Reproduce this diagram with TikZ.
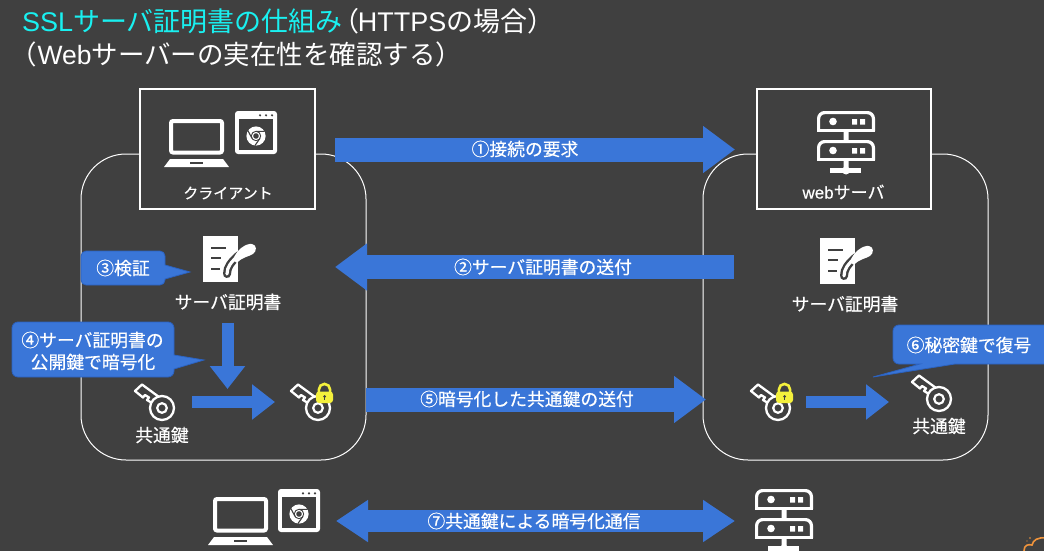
\documentclass[tikz,border=0pt]{standalone}
\usepackage{fontspec}
\setmainfont{Noto Sans CJK JP}
\newfontfamily\latf{Liberation Sans}
\newfontfamily\lblf[FakeBold=0.5]{Noto Sans CJK JP}
\newfontfamily\latlblf[FakeBold=0.5]{Liberation Sans}
\usetikzlibrary{arrows.meta}
\definecolor{bgc}{HTML}{404040}
\definecolor{blu}{HTML}{3A76D8}
\definecolor{blud}{HTML}{2B62C0}
\definecolor{cyn}{HTML}{19F0F0}
\definecolor{ylw}{HTML}{F4F03C}
\definecolor{org}{HTML}{F0943C}
\tikzset{
  lbl/.style={text=white,font=\lblf\fontsize{17.8pt}{20pt}\selectfont,inner sep=0pt},
  smalllbl/.style={text=white,font=\lblf\fontsize{15pt}{18pt}\selectfont,inner sep=0pt},
  ttl/.style={text=white,font=\fontsize{27pt}{30pt}\selectfont,inner sep=0pt,anchor=base west},
  frame/.style={draw=white,line width=1pt,rounded corners=45pt},
  hostbox/.style={draw=white,fill=bgc,line width=2pt},
  callout/.style={fill=blu,draw=blud,line width=.8pt},
  bigarrow/.style={draw=blu,line width=24pt,-{Triangle[length=32pt,width=45pt]}},
  dblarrow/.style={draw=blu,line width=22pt,{Triangle[length=32pt,width=40pt]}-{Triangle[length=32pt,width=40pt]}},
  smallarrow/.style={draw=blu,line width=12pt,-{Triangle[length=23pt,width=34pt]}},
  pics/laptopicon/.style={code={
    \draw[white,line width=4pt,rounded corners=2pt] (2,2) rectangle (53,33.5);
    \fill[white] (-5,48) -- (1,40) -- (54,40) -- (60,48) -- cycle;
    \fill[bgc] (21,43) rectangle (34,45);
  }},
  pics/browsericon/.style={code={
    \fill[white,rounded corners=3pt] (0,0) rectangle (42,43);
    \fill[bgc] (4,8) rectangle (38,39);
    \foreach \dx in {25,31,37}{\fill[bgc] (\dx,4.3) circle (1.2);}
    \fill[white] (21,25) circle (9.6);
    \draw[bgc,line width=1.1pt] (21,25) circle (4.6);
    \draw[bgc,line width=1.1pt] (21,20.4) -- (29.6,20.4) (17,27.3) -- (12.8,19.5) (25,27.3) -- (20,34.5);
    \fill[white] (21,25) circle (4);
    \fill[bgc] (21,25) circle (2.8);
  }},
  pics/servericon/.style={code={
    \foreach \dy in {0,29}{
      \begin{scope}[yshift=-\dy pt]
      \draw[white,line width=3.2pt,rounded corners=6pt] (1.6,20) -- (1.6,1.6) -- (56.4,1.6) -- (56.4,20);
      \draw[white,line width=3.2pt] (0,19.4) -- (58,19.4);
      \fill[white] (16,10.5) circle (3.8);
      \fill[white] (35,8) rectangle (40,13.5) (43,8) rectangle (48,13.5);
      \end{scope}
    }
    \fill[white] (26.5,21) rectangle (31.5,29) (26.5,48) rectangle (31.5,58);
    \fill[white] (13,57) rectangle (44,62);
    \fill[white] (29,59.5) circle (4);
  }},
  pics/certicon/.style={code={
    \fill[white] (0,0) rectangle (35,46);
    \draw[bgc,line width=2.4pt] (8,12) -- (23,12) (8,22) -- (18,22) (8,33) -- (17,33);
    \draw[bgc,line width=8pt,line cap=round] (24,38) .. controls (24,31) and (28,26) .. (36,19);
    \draw[white,line width=3.2pt,line cap=round] (24,38) .. controls (24,31) and (28,26) .. (36,19);
    \fill[white] (30,24) .. controls (33,14) and (43,7) .. (49,8) .. controls (54,9) and (54,15) .. (50,18) .. controls (45,21) and (39,21) .. (34,27) -- cycle;
  }},
  pics/keyicon/.style={code={
    \draw[white,line width=2.3pt,line join=round] (-10,-5) -- (-15,-8) -- (-13,-10.5) -- (-17,-13) -- (-19,-10.5) -- (-27,-17) -- (-20,-23.5) -- (-3,-11);
    \draw[white,fill=bgc,line width=2.3pt] (0,0) circle (12);
    \draw[white,line width=2.2pt] (0,0) circle (4.8);
  }},
  pics/lockicon/.style={code={
    \draw[ylw,line width=2.6pt] (-5.6,-8) -- (-5.6,-11) arc[start angle=180,end angle=360,radius=5.6] -- (5.6,-8);
    \fill[ylw,rounded corners=3pt] (-8.5,-9) rectangle (8.5,2.5);
    \fill[bgc] (0,-4) circle (1.5);
    \fill[bgc] (-.6,-4) rectangle (.6,-.5);
  }},
}
\begin{document}
\begin{tikzpicture}[x=1pt,y=-1pt]
\useasboundingbox (0,0) rectangle (1044,551);
\clip (0,0) rectangle (1044,551);
\fill[bgc] (0,0) rectangle (1044,551);

% title
\node[ttl] (title1) at (22,32) {\textcolor{cyn}{{\latf SSL}サーバ証明書の仕組み}\hspace{-10pt}（\hspace{-2pt}{\latf HTTPS}の場合）};
\node[ttl,font=\fontsize{26.5pt}{30pt}\selectfont] (title2) at (10,64) {（\hspace{1pt}{\latf Web}サーバーの実在性を確認する）};

% frames
\draw[frame] (81,154) rectangle (366,460);
\draw[frame] (703,154) rectangle (988,460);

% hosts
\node[hostbox,minimum width=175pt,minimum height=120pt,inner sep=0pt] (client) at (227.5,149) {};
\node[hostbox,minimum width=174pt,minimum height=120pt,inner sep=0pt] (server) at (844,149) {};
\pic at (169,119) {laptopicon};
\pic at (235,111) {browsericon};
\pic at (817,111) {servericon};
\node[smalllbl] (clientlbl) at (228,193) {クライアント};
\node[smalllbl] (serverlbl) at (843.5,192) {{\latlblf\fontsize{17pt}{18pt}\selectfont web}\fontsize{17pt}{18pt}\selectfont サーバ};

% certificates
\node[inner sep=0pt,minimum size=1pt] (certL) at (221,259) {};
\node[inner sep=0pt,minimum size=1pt] (certR) at (838,261) {};
\pic at (203,236) {certicon};
\pic at (820,238) {certicon};
\node[lbl] (certLlbl) at (228,302) {サーバ証明書};
\node[lbl] (certRlbl) at (845,304) {サーバ証明書};

% keys
\node[inner sep=0pt,minimum size=1pt] (keyL) at (162,408) {};
\node[inner sep=0pt,minimum size=1pt] (keyLockL) at (318,408) {};
\node[inner sep=0pt,minimum size=1pt] (keyLockR) at (778,408) {};
\node[inner sep=0pt,minimum size=1pt] (keyR) at (939,399) {};
\pic at (keyL) {keyicon};
\pic at (keyLockL) {keyicon};
\pic at (keyLockR) {keyicon};
\pic at (keyR) {keyicon};
\pic at (324.5,400.5) {lockicon};
\pic at (784.5,400.5) {lockicon};
\node[lbl] (keyLlbl) at (162,435) {共通鍵};
\node[lbl] (keyRlbl) at (939,426) {共通鍵};

% bottom icons
\pic at (213,497) {laptopicon};
\pic at (278,489) {browsericon};
\pic at (755,489) {servericon};
\coordinate (botL) at (336,521);
\coordinate (botR) at (735,521);

% big arrows
\coordinate (a1s) at (335,149.5);
\coordinate (a1e) at (735,149.5);
\coordinate (a2s) at (734,267);
\coordinate (a2e) at (335,267);
\coordinate (a5s) at (366,399.5);
\coordinate (a5e) at (706,399.5);
\coordinate (a4s) at (227.5,323);
\coordinate (a4e) at (227.5,389);
\coordinate (a4bs) at (192,402);
\coordinate (a4be) at (275,402);
\coordinate (a6s) at (806,402);
\coordinate (a6e) at (889,402);
\draw[bigarrow] (a1s) -- (a1e);
\draw[bigarrow] (a2s) -- (a2e);
\draw[bigarrow] (a5s) -- (a5e);
\draw[dblarrow] (botL) -- (botR);
\draw[smallarrow] (a4s) -- (a4e);
\draw[smallarrow] (a4bs) -- (a4be);
\draw[smallarrow] (a6s) -- (a6e);
\node[lbl] (l1) at (525,149) {①接続の要求};
\node[lbl] (l2) at (543,267) {②サーバ証明書の送付};
\node[lbl] (l5) at (527,399) {⑤暗号化した共通鍵の送付};
\node[lbl] (l7) at (534,521) {⑦共通鍵による暗号化通信};

% callouts
\draw[callout] (165,265) [rounded corners=5pt] -- (165,251) -- (81,251) -- (81,285) -- (165,285) [sharp corners] -- (165,279) -- (190,272) -- cycle;
\node[lbl] (l3) at (123,268) {③検証};
\draw[callout] (174,355) [rounded corners=6pt] -- (174,322) -- (12,322) -- (12,377) -- (174,377) [sharp corners] -- (174,369) -- (204,360) -- cycle;
\node[lbl] (l4a) at (92.5,340) {④サーバ証明書の};
\node[lbl] (l4b) at (93,362) {公開鍵で暗号化};
\draw[callout] (920,364) [rounded corners=6pt] -- (893,364) -- (893,325) -- (1060,325) -- (1060,364) [sharp corners] -- (955,364) -- (873,377) -- cycle;
\node[lbl] (l6) at (969,345) {⑥秘密鍵で復号};

% corner logo
\draw[org,line width=1.6pt,line cap=round] (1024,551) .. controls (1024,545) and (1028,544) .. (1032,545) .. controls (1033,540) and (1038,537) .. (1046,538);
\fill[org] (1030,538) circle (.8) (1027,541) circle (.6);
\end{tikzpicture}
\end{document}
